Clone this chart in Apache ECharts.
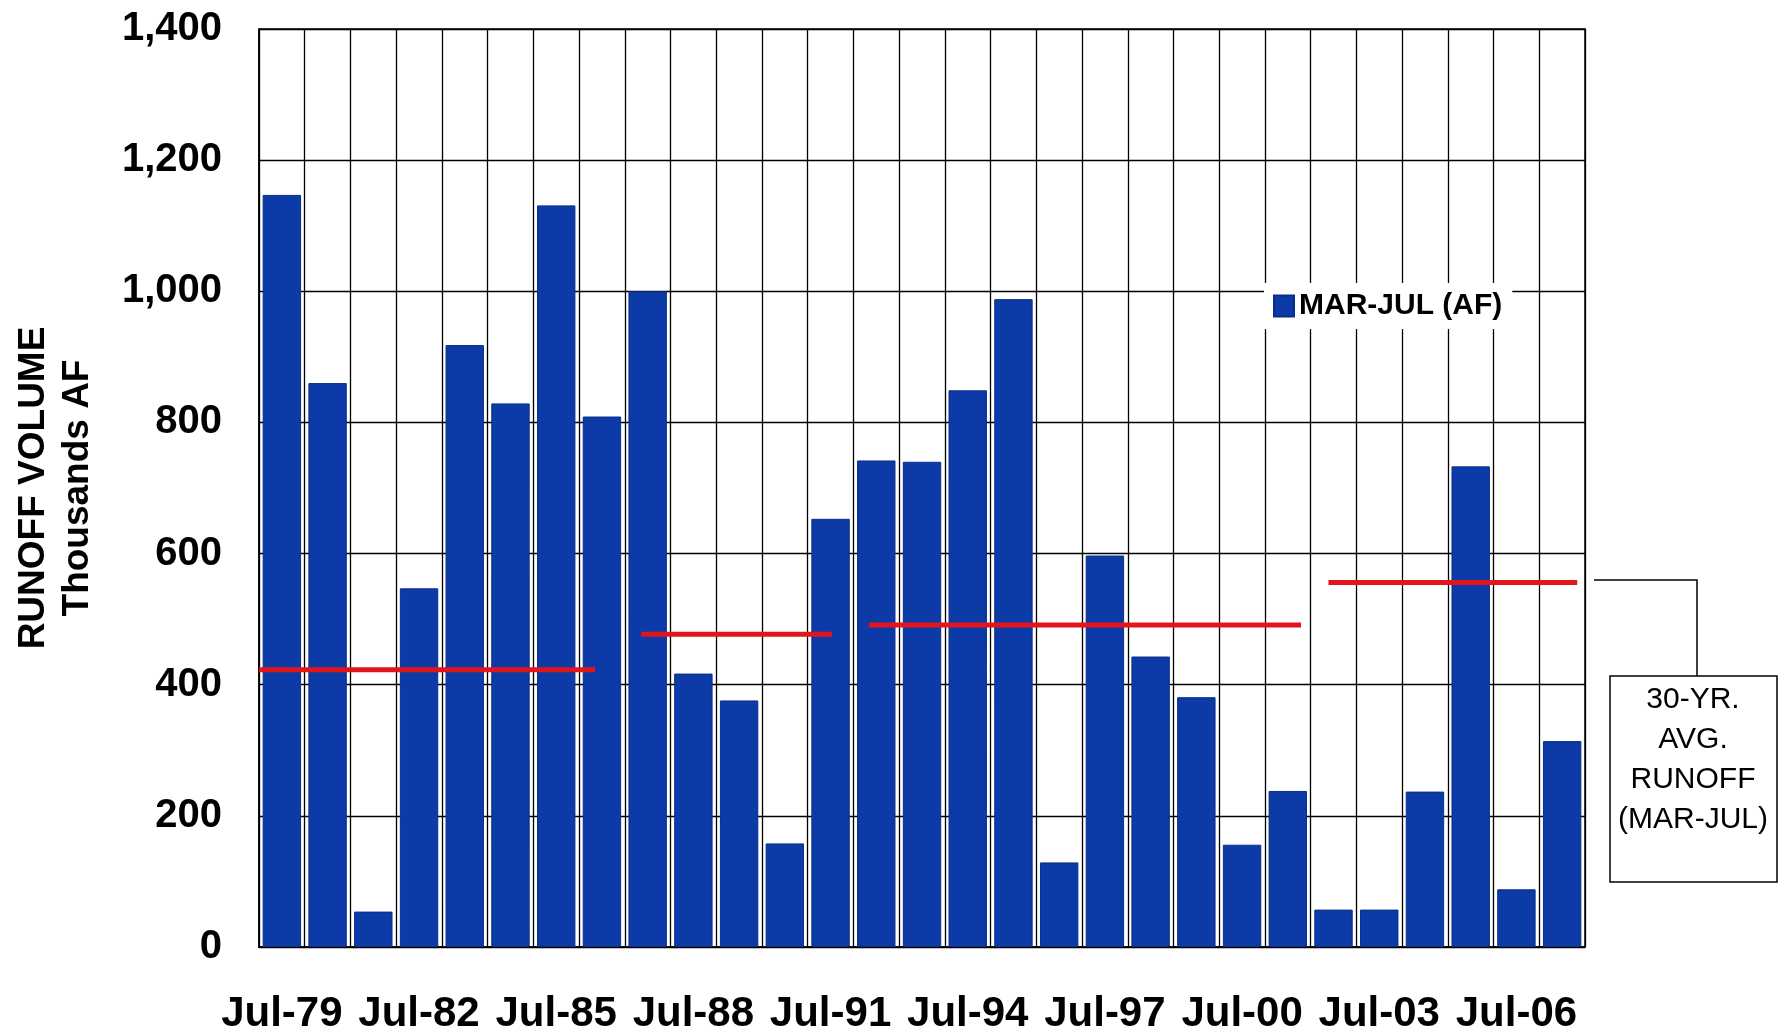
<!DOCTYPE html>
<html>
<head>
<meta charset="utf-8">
<script src="https://cdn.jsdelivr.net/npm/echarts@6/dist/echarts.min.js"></script>
<style>
html,body{margin:0;padding:0;background:#fff;}
#chart{width:1785px;height:1036px;}
</style>
</head>
<body>
<div id="chart"></div>
<script>
// Data
var categories = ['Jul-79','Jul-80','Jul-81','Jul-82','Jul-83','Jul-84','Jul-85','Jul-86','Jul-87','Jul-88',
  'Jul-89','Jul-90','Jul-91','Jul-92','Jul-93','Jul-94','Jul-95','Jul-96','Jul-97','Jul-98',
  'Jul-99','Jul-00','Jul-01','Jul-02','Jul-03','Jul-04','Jul-05','Jul-06','Jul-07'];
var runoff = [1147, 860, 54, 547, 918, 829, 1131, 809, 1000, 417,
  376, 158, 653, 742, 740, 849, 988, 129, 597, 443,
  381, 156, 238, 57, 57, 237, 733, 88, 314];
// 30-yr average segments (start/end in category units, value)
var avgStart = [0, 8.36, 13.34, 23.39];
var avgEnd = [7.35, 12.53, 22.79, 28.83];
var avgValue = [423, 477, 491, 556];
var yTicks = [0, 200, 400, 600, 800, 1000, 1200, 1400];
var seriesName = 'MAR-JUL (AF)';
var boxLines = ['30-YR.', 'AVG.', 'RUNOFF', '(MAR-JUL)'];

var FONT = "'Liberation Sans', Arial, sans-serif";
var chart = echarts.init(document.getElementById('chart'), null, {renderer: 'canvas'});

var series = [{
  name: seriesName,
  type: 'bar',
  data: runoff,
  barCategoryGap: '16%',
  itemStyle: {color: '#0c3aa6', borderColor: '#0a2e8a', borderWidth: 1},
  z: 3
}];
for (var i = 0; i < avgValue.length; i++) {
  series.push({
    type: 'line',
    xAxisIndex: 1,
    data: [[avgStart[i], avgValue[i]], [avgEnd[i], avgValue[i]]],
    symbol: 'none',
    silent: true,
    lineStyle: {color: '#e3141c', width: 5},
    z: 5
  });
}

chart.setOption({
  animation: false,
  backgroundColor: '#ffffff',
  grid: {left: 259, right: 200, top: 29, bottom: 89, show: true, borderColor: '#000', borderWidth: 1.5,
    backgroundColor: 'transparent', containLabel: false, outerBoundsMode: 'none'},
  legend: {
    data: [seriesName],
    left: 1264, top: 283,
    padding: [8, 10, 8, 9],
    backgroundColor: '#ffffff',
    itemWidth: 20, itemHeight: 21,
    icon: 'rect',
    textStyle: {fontFamily: FONT, fontWeight: 'bold', fontSize: 30, color: '#000'}
  },
  xAxis: [{
    type: 'category',
    data: categories,
    boundaryGap: true,
    axisLine: {show: true, lineStyle: {color: '#000', width: 1.5}},
    axisTick: {show: false},
    splitLine: {show: true, interval: 0, lineStyle: {color: '#000', width: 1.3}},
    axisLabel: {interval: 2, margin: 46, fontFamily: FONT, fontWeight: 'bold', fontSize: 42, color: '#000'}
  }, {
    type: 'value', min: 0, max: categories.length, show: false
  }],
  yAxis: {
    type: 'value',
    min: yTicks[0], max: yTicks[yTicks.length - 1], interval: 200,
    axisLine: {show: true, lineStyle: {color: '#000', width: 1.5}},
    axisTick: {show: false},
    splitLine: {show: true, lineStyle: {color: '#000', width: 1.3}},
    axisLabel: {
      margin: 37, fontFamily: FONT, fontWeight: 'bold', fontSize: 40, color: '#000',
      formatter: function (v) { return v.toLocaleString('en-US'); }
    },
    name: 'RUNOFF VOLUME\nThousands AF',
    nameLocation: 'middle',
    nameRotate: 90,
    nameGap: 159,
    nameTextStyle: {fontFamily: FONT, fontWeight: 'bold', fontSize: 37, color: '#000', lineHeight: 44, align: 'center'}
  },
  series: series,
  graphic: [
    {type: 'polyline', shape: {points: [[1594, 580], [1697, 580], [1697, 676]]}, style: {stroke: '#000', lineWidth: 1.5, fill: null}, z: 10},
    {type: 'rect', shape: {x: 1610, y: 676, width: 167, height: 206}, style: {fill: '#fff', stroke: '#000', lineWidth: 1.5}, z: 10},
    {type: 'text', x: 1693, y: 680, style: {text: boxLines.join('\n'), fontFamily: FONT, fontSize: 30, lineHeight: 40, fill: '#000', align: 'center', verticalAlign: 'top'}, z: 11}
  ]
});
</script>
</body>
</html>
